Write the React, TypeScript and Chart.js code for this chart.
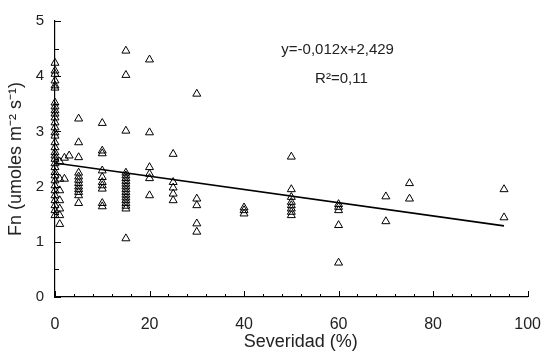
import React, { useEffect, useRef } from "react";
import { Chart, registerables } from "chart.js";

Chart.register(...registerables);

// Severity (%) groups and the Fn values read at each
const severityLevels = [0, 1, 2, 3, 5, 10, 15, 20, 25, 30, 40, 50, 60, 70, 75, 95];
const fnAt0 = [4.24, 4.1, 4.04, 3.92, 3.83, 3.79, 3.52, 3.45, 3.38, 3.32, 3.25, 3.16, 3.07, 2.98, 2.92, 2.8, 2.71, 2.62, 2.56, 2.5, 2.42, 2.35, 2.26, 2.2, 2.11, 2.02, 1.93, 1.84, 1.75, 1.66, 1.57, 1.48];
const fnAt1 = [2.45, 2.14, 1.93, 1.75, 1.6, 1.48, 1.32];
const fnAt2 = [2.52, 2.14];
const fnAt3 = [2.56];
const fnAt5 = [3.23, 2.8, 2.53, 2.25, 2.18, 2.12, 2.06, 2.0, 1.95, 1.9, 1.84, 1.7];
const fnAt10 = [3.15, 2.65, 2.6, 2.29, 2.17, 2.08, 2.02, 1.96, 1.7, 1.64];
const fnAt15 = [4.46, 4.02, 3.01, 2.25, 2.2, 2.15, 2.1, 2.05, 2.0, 1.95, 1.9, 1.85, 1.8, 1.75, 1.7, 1.65, 1.6, 1.06];
const fnAt20 = [4.3, 2.98, 2.35, 2.23, 2.15, 1.84];
const fnAt25 = [2.59, 2.08, 1.98, 1.87, 1.75];
const fnAt30 = [3.68, 1.78, 1.66, 1.33, 1.18];
const fnAt40 = [1.62, 1.57, 1.51];
const fnAt50 = [2.54, 1.95, 1.81, 1.72, 1.66, 1.6, 1.54, 1.48];
const fnAt60 = [1.68, 1.63, 1.57, 1.3, 0.62];
const fnAt70 = [1.82, 1.37];
const fnAt75 = [2.06, 1.78];
const fnAt95 = [1.95, 1.44];
const fnGroups = [fnAt0, fnAt1, fnAt2, fnAt3, fnAt5, fnAt10, fnAt15, fnAt20, fnAt25, fnAt30, fnAt40, fnAt50, fnAt60, fnAt70, fnAt75, fnAt95];

// Regression line end points
const trendX = [0, 95];
const trendY = [2.429, 1.289];

const equationText = "y=-0,012x+2,429";
const r2Text = "R\u00B2=0,11";
const xTitle = "Severidad (%)";
const yTitle = "Fn (umoles m\u207B\u00B2 s\u207B\u00B9)";

const FONT = "'Liberation Sans', Arial, sans-serif";

const ticksPlugin = {
  id: "innerTicks",
  afterDraw(chart: any) {
    const { ctx, scales, chartArea } = chart;
    const x = scales.x;
    const y = scales.y;
    ctx.save();
    ctx.strokeStyle = "#000";
    ctx.lineWidth = 1;
    ctx.beginPath();
    for (let v = 0; v <= 100; v += 4) {
      const px = Math.round(x.getPixelForValue(v)) + 0.5;
      const len = v % 20 === 0 ? 6 : 3;
      ctx.moveTo(px, chartArea.bottom);
      ctx.lineTo(px, chartArea.bottom - len);
    }
    for (let v = 0; v <= 5; v += 0.5) {
      const py = Math.round(y.getPixelForValue(v)) + 0.5;
      const len = v % 1 === 0 ? 6 : 4;
      ctx.moveTo(chartArea.left, py);
      ctx.lineTo(chartArea.left + len, py);
    }
    ctx.stroke();
    ctx.fillStyle = "#222";
    ctx.textAlign = "center";
    ctx.textBaseline = "middle";
    // equation labels
    ctx.font = `15px ${FONT}`;
    ctx.fillText(equationText, x.getPixelForValue(59.8), y.getPixelForValue(4.47));
    ctx.fillText(r2Text, x.getPixelForValue(60.6), y.getPixelForValue(3.96));
    // x axis title
    ctx.font = `18px ${FONT}`;
    ctx.fillText(xTitle, x.getPixelForValue(52), chart.height - 10);
    ctx.restore();
  },
};

export default function App() {
  const ref = useRef<HTMLCanvasElement>(null);
  useEffect(() => {
    if (!ref.current) return;
    const points: { x: number; y: number }[] = [];
    severityLevels.forEach((s, i) => {
      fnGroups[i].forEach((v) => points.push({ x: s, y: v }));
    });
    const trend = trendX.map((xv, i) => ({ x: xv, y: trendY[i] }));
    const chart = new Chart(ref.current, {
      type: "scatter",
      data: {
        datasets: [
          {
            data: points,
            pointStyle: "triangle",
            pointRadius: 4.6,
            pointBorderWidth: 1,
            pointBorderColor: "#000",
            pointBackgroundColor: "rgba(0,0,0,0)",
            clip: false as any,
          },
          {
            type: "line" as any,
            data: trend,
            borderColor: "#000",
            borderWidth: 1.6,
            pointRadius: 0,
            showLine: true,
            fill: false,
          },
        ],
      },
      options: {
        animation: false,
        responsive: true,
        maintainAspectRatio: false,
        layout: { padding: { top: 21, right: 0, left: 0, bottom: 0 } },
        plugins: { legend: { display: false }, tooltip: { enabled: false } },
        scales: {
          x: {
            type: "linear",
            min: 0,
            max: 100,
            afterFit: (s: any) => {
              s.height = 55;
            },
            ticks: {
              stepSize: 20,
              color: "#222",
              font: { family: FONT, size: 16 },
              padding: 0,
              maxRotation: 0,
            },
            grid: { display: false, drawTicks: true, tickLength: 18 },
            border: { display: true, color: "#000", width: 1.2 },
            title: { display: false },
          },
          y: {
            type: "linear",
            min: 0,
            max: 5,
            afterFit: (s: any) => {
              s.width = 55;
            },
            ticks: {
              stepSize: 1,
              color: "#222",
              font: { family: FONT, size: 15 },
              padding: 11,
            },
            grid: { display: false, drawTicks: false },
            border: { display: true, color: "#000", width: 1.2 },
            title: {
              display: true,
              text: yTitle,
              color: "#222",
              font: { family: FONT, size: 18 },
              padding: { top: 5.2, bottom: 0 },
            },
          },
        },
      },
      plugins: [ticksPlugin],
    });
    return () => chart.destroy();
  }, []);
  return (
    <div style={{ position: "fixed", left: 0, top: 0, width: 541, height: 352, background: "#fff" }}>
      <canvas ref={ref} style={{ width: 541, height: 352 }} />
    </div>
  );
}
